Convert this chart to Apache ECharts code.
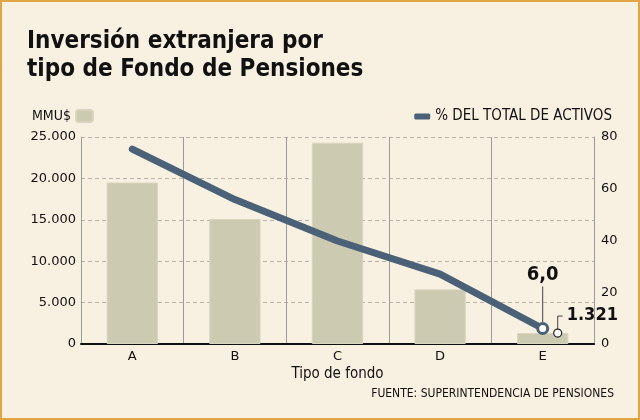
<!DOCTYPE html>
<html>
<head>
<meta charset="utf-8">
<script src="https://cdn.jsdelivr.net/npm/echarts@6/dist/echarts.min.js"></script>
<style>
  html, body { margin: 0; padding: 0; background: #f8f0e1; }
  #main { width: 636px; height: 416px; border: 2px solid #e2a545; }
</style>
</head>
<body>
<div id="main"></div>
<script>
// categorias (tipo de fondo)
var categories = ['A', 'B', 'C', 'D', 'E'];
// inversion extranjera, MMU$
var montos = [19500, 15100, 24300, 6600, 1321];
// % del total de activos
var porcentajes = [75.3, 55.8, 39.8, 27.0, 6.0];

var barColor = '#cccab0';
var lineColor = '#4a6178';
var condFont = 'DejaVu Sans Condensed';
var tickFont = 'DejaVu Sans';

function fmtMiles(v) {
    return String(v).replace(/\B(?=(\d{3})+(?!\d))/g, '.');
}

var myChart = echarts.init(document.getElementById('main'));

var option = {
    backgroundColor: '#f8f0e1',
    animation: false,
    textStyle: { fontFamily: tickFont, color: '#111' },
    title: [
        {
            text: 'Inversión extranjera por\ntipo de Fondo de Pensiones',
            left: 20,
            top: 21,
            textStyle: {
                fontFamily: condFont,
                fontWeight: 'bold',
                fontSize: 24,
                lineHeight: 28,
                color: '#111'
            }
        },
        {
            text: 'FUENTE: SUPERINTENDENCIA DE PENSIONES',
            right: 19,
            top: 381,
            textStyle: { fontFamily: condFont, fontWeight: 'normal', fontSize: 12, color: '#111' }
        }
    ],
    legend: [
        {
            data: ['MMU$'],
            left: 25,
            top: 102,
            align: 'right',
            itemWidth: 17,
            itemHeight: 12,
            itemGap: 6,
            textStyle: { fontFamily: condFont, fontSize: 14, color: '#111' }
        },
        {
            data: [{ name: '% DEL TOTAL DE ACTIVOS', icon: 'roundRect' }],
            right: 21,
            top: 102,
            align: 'left',
            itemWidth: 16,
            itemHeight: 6,
            textStyle: { fontFamily: condFont, fontSize: 15, color: '#111' }
        }
    ],
    grid: { left: 79, right: 44, top: 135, bottom: 74 },
    xAxis: {
        type: 'category',
        data: categories,
        name: 'Tipo de fondo',
        nameLocation: 'middle',
        nameGap: 23,
        nameTextStyle: { fontFamily: condFont, fontSize: 15, color: '#111' },
        axisLine: { lineStyle: { color: '#111', width: 2 } },
        axisTick: { show: false },
        axisLabel: { fontFamily: tickFont, fontSize: 13, color: '#111', margin: 6 },
        splitLine: { show: true, lineStyle: { color: '#9a9a9a', width: 1 } }
    },
    yAxis: [
        {
            type: 'value',
            min: 0,
            max: 25000,
            interval: 5000,
            axisLine: { show: true, lineStyle: { color: '#9a9a9a' } },
            axisTick: { show: false },
            axisLabel: {
                fontFamily: tickFont, fontSize: 13, color: '#111', margin: 5,
                formatter: function (v) { return fmtMiles(v); }
            },
            splitLine: { lineStyle: { color: '#b8b4aa', type: [4, 3] } }
        },
        {
            type: 'value',
            min: 0,
            max: 80,
            interval: 20,
            axisLine: { show: true, lineStyle: { color: '#9a9a9a' } },
            axisTick: { show: false },
            axisLabel: { fontFamily: tickFont, fontSize: 13, color: '#111', margin: 7 },
            splitLine: { show: false }
        }
    ],
    series: [
        {
            name: 'MMU$',
            type: 'bar',
            data: montos,
            barWidth: '50%',
            itemStyle: { color: barColor, borderColor: '#d8d6c0', borderWidth: 1 }
        },
        {
            name: '% DEL TOTAL DE ACTIVOS',
            type: 'line',
            yAxisIndex: 1,
            data: porcentajes,
            showSymbol: false,
            symbol: 'circle',
            lineStyle: { color: lineColor, width: 7, cap: 'round', join: 'round' },
            itemStyle: { color: lineColor }
        }
    ]
};

myChart.setOption(option);

// anotaciones del fondo E, ubicadas con las escalas del grafico
var last = categories.length - 1;
var pLine = myChart.convertToPixel({ xAxisIndex: 0, yAxisIndex: 1 }, [categories[last], porcentajes[last]]);
var pBar = myChart.convertToPixel({ xAxisIndex: 0, yAxisIndex: 0 }, [categories[last], montos[last]]);
var cx = pBar[0] + 15;

myChart.setOption({
    graphic: [
        { type: 'line', shape: { x1: pLine[0], y1: pLine[1] - 6, x2: pLine[0], y2: pLine[1] - 42 }, style: { stroke: '#444', lineWidth: 1 } },
        { type: 'circle', shape: { cx: pLine[0], cy: pLine[1], r: 5 }, style: { fill: '#fff', stroke: lineColor, lineWidth: 3 }, z: 10 },
        { type: 'text', x: pLine[0], y: pLine[1] - 44, style: { text: '6,0', font: 'bold 20px ' + condFont, fill: '#111', align: 'center', verticalAlign: 'bottom' } },
        { type: 'polyline', shape: { points: [[cx, pBar[1] - 4], [cx, pBar[1] - 17], [cx + 5, pBar[1] - 17]] }, style: { stroke: '#444', lineWidth: 1, fill: null } },
        { type: 'circle', shape: { cx: cx, cy: pBar[1], r: 4 }, style: { fill: '#fff', stroke: '#222', lineWidth: 1.2 }, z: 10 },
        { type: 'text', x: cx + 9, y: pBar[1] - 18, style: { text: fmtMiles(montos[last]), font: 'bold 18px ' + condFont, fill: '#111', align: 'left', verticalAlign: 'middle' } }
    ]
});
</script>
</body>
</html>
